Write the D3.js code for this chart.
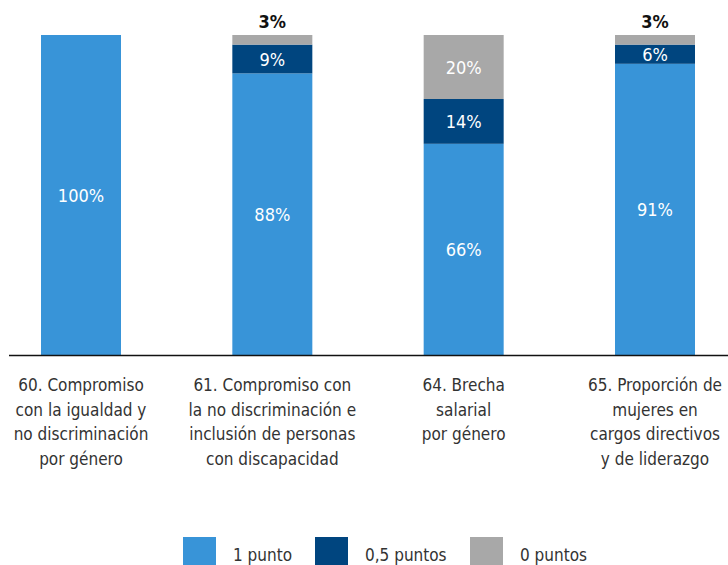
<!DOCTYPE html>
<html>
<head>
<meta charset="UTF-8">
<title>Puntuación por indicador</title>
<script src="https://cdn.jsdelivr.net/npm/d3@7"></script>
<style>
  body { margin: 0; background: #fff; }
  text { font-family: "Liberation Sans Narrow", "DejaVu Sans Condensed", "Roboto", sans-serif; }
</style>
</head>
<body>
<script>
// Categories (one label line per entry)
var categories = ["60", "61", "64", "65"];
var categoryLabels = [
    ["60. Compromiso", "con la igualdad y", "no discriminación", "por género"],
    ["61. Compromiso con", "la no discriminación e", "inclusión de personas", "con discapacidad"],
    ["64. Brecha", "salarial", "por género"],
    ["65. Proporción de", "mujeres en", "cargos directivos", "y de liderazgo"]
];
// Series values (%)
var serieNames = ["1 punto", "0,5 puntos", "0 puntos"];
var unPunto = [100, 88, 66, 91];
var medioPunto = [0, 9, 14, 6];
var ceroPuntos = [0, 3, 20, 3];

var colors = ["#3894d8", "#00457f", "#a8a8a8"];

var width = 728, height = 565;
var svg = d3.select("body").append("svg")
    .attr("width", width)
    .attr("height", height);

var baseY = 355, topY = 35, barW = 80;

var x = d3.scalePoint().domain(categories).range([81, 655]);
var y = d3.scaleLinear().domain([0, 100]).range([baseY, topY]);

// Build the table for the stack
var rows = categories.map(function (c, i) {
    return { cat: c, a: unPunto[i], b: medioPunto[i], c: ceroPuntos[i] };
});
var stack = d3.stack().keys(["a", "b", "c"]);
var series = stack(rows);

var groups = svg.selectAll("g.serie")
    .data(series)
    .enter().append("g")
    .attr("class", "serie")
    .attr("fill", function (d, i) { return colors[i]; });

groups.selectAll("rect")
    .data(function (d) { return d; })
    .enter().append("rect")
    .attr("x", function (d) { return x(d.data.cat) - barW / 2; })
    .attr("width", barW)
    .attr("y", function (d) { return y(d[1]); })
    .attr("height", function (d) { return y(d[0]) - y(d[1]); });

// Value labels: inside the segment, or above the bar if the segment is tiny
groups.each(function (s, si) {
    d3.select(this).selectAll("text")
        .data(s.filter(function (d) { return d[1] - d[0] > 0; }))
        .enter().append("text")
        .attr("text-anchor", "middle")
        .attr("font-size", 18)
        .attr("x", function (d) { return x(d.data.cat); })
        .attr("y", function (d) {
            if (d[1] - d[0] < 5) return y(d[1]) - 7;
            return (y(d[0]) + y(d[1])) / 2 + 7;
        })
        .attr("fill", function (d) { return d[1] - d[0] < 5 ? "#111" : "#fff"; })
        .attr("font-weight", function (d) { return d[1] - d[0] < 5 ? "bold" : "normal"; })
        .text(function (d) { return (d[1] - d[0]) + "%"; });
});

// Baseline
svg.append("line")
    .attr("x1", 9).attr("x2", width)
    .attr("y1", baseY + 0.5).attr("y2", baseY + 0.5)
    .attr("stroke", "#111")
    .attr("stroke-width", 1.5);

// Category labels
var labels = svg.selectAll("text.cat")
    .data(categories)
    .enter().append("text")
    .attr("class", "cat")
    .attr("text-anchor", "middle")
    .attr("font-size", 17)
    .attr("fill", "#333");
labels.each(function (c, i) {
    var t = d3.select(this);
    categoryLabels[i].forEach(function (line, k) {
        t.append("tspan")
            .attr("x", x(c))
            .attr("y", 391 + k * 24.5)
            .text(line);
    });
});

// Legend
var legendX = [183, 315, 470];
var legend = svg.selectAll("g.legend")
    .data(serieNames)
    .enter().append("g")
    .attr("class", "legend")
    .attr("transform", function (d, i) { return "translate(" + legendX[i] + ",537)"; });
legend.append("rect")
    .attr("width", 33).attr("height", 33)
    .attr("fill", function (d, i) { return colors[i]; });
legend.append("text")
    .attr("x", 50).attr("y", 24)
    .attr("font-size", 17)
    .attr("fill", "#333")
    .text(function (d) { return d; });
</script>
</body>
</html>
